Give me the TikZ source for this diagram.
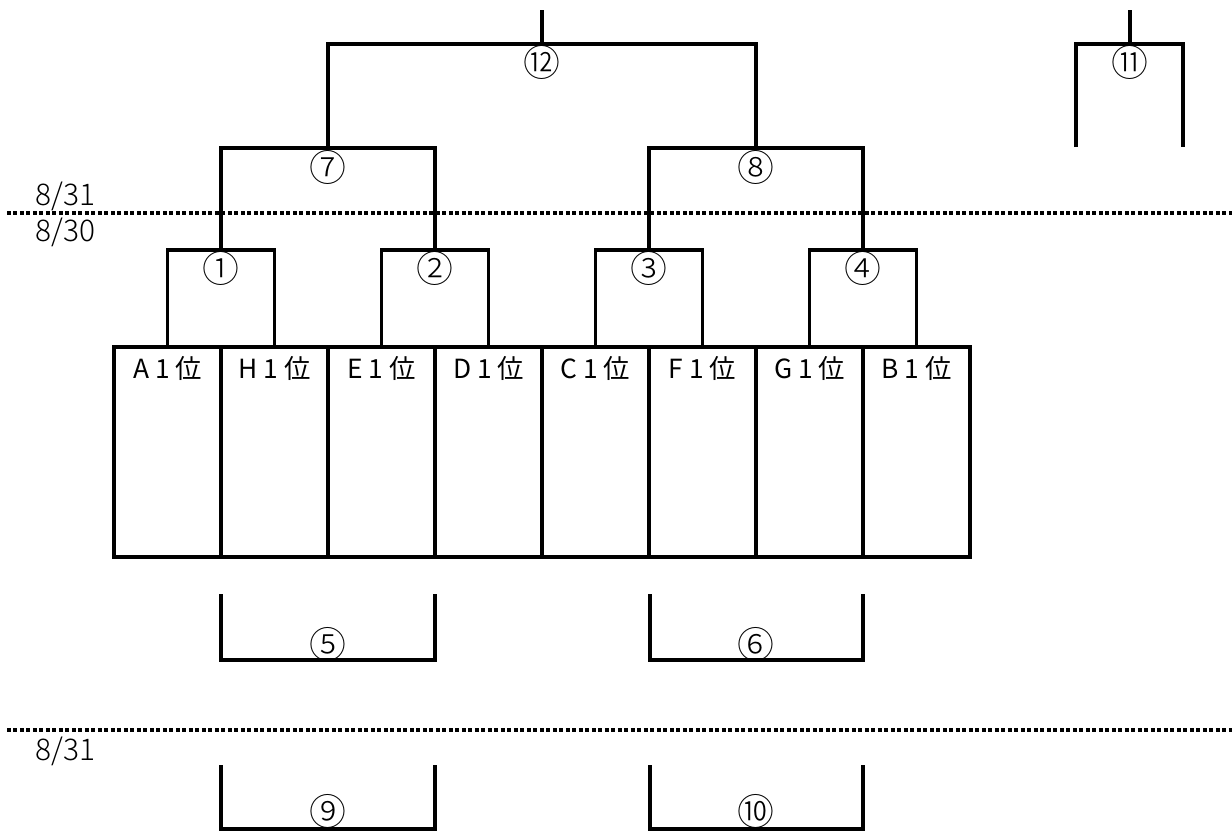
\documentclass[tikz,border=0pt]{standalone}
\usepackage{fontspec}
\setmainfont{Noto Sans CJK JP}
\newfontfamily\thinfont{Noto Sans CJK JP Light}
\usetikzlibrary{positioning}

\begin{document}
\begin{tikzpicture}[x=0.02cm, y=-0.02cm, line width=1.9pt,
    cell/.style={draw, minimum width=2.14cm, minimum height=4.2cm, inner sep=0pt},
    team/.style={font=\fontsize{15}{17}\selectfont, inner sep=0pt},
    num/.style={font=\thinfont\fontsize{21}{23}\selectfont, inner sep=0pt},
    day/.style={font=\thinfont\fontsize{17}{19}\selectfont, anchor=west, inner sep=0pt},
    daysep/.style={dash pattern=on 0.08cm off 0.05cm}]
            \useasboundingbox (0,0) rectangle (1232,833);
            % days
            \coordinate (s1) at (7,213);
            \coordinate (e1) at (1232,213);
            \path[draw, daysep](s1)to(e1);
            \node[day] (d1) at (34,196) {8/31};
            \node[day] (d2) at (34,232) {8/30};
            \coordinate (s2) at (7,730);
            \coordinate (e2) at (1232,730);
            \path[draw, daysep](s2)to(e2);
            \node[day] (d3) at (34,751) {8/31};
            % teams
            \foreach \t [count=\i] in {A,H,E,D,C,F,G,B}{
                \node[cell] (c\i) at ({60.5+107*\i},452) {};
                \node[team] (t\i) at ([yshift=-0.46cm]c\i.north) {\t{} 1 位};
            }
            % first round
            \foreach \i in {1,...,4}{
                \coordinate (r\i) at ({221+214*(\i-1)},250);
            }
            \path[draw](c1.north)|-(r1)-|(c2.north);
            \path[draw](c3.north)|-(r2)-|(c4.north);
            \path[draw](c5.north)|-(r3)-|(c6.north);
            \path[draw](c7.north)|-(r4)-|(c8.north);
            \node[num] (n1) at ([yshift=-0.36cm]r1) {①};
            \node[num] (n2) at ([yshift=-0.36cm]r2) {②};
            \node[num] (n3) at ([yshift=-0.36cm]r3) {③};
            \node[num] (n4) at ([yshift=-0.36cm]r4) {④};
            % second round
            \coordinate (r7) at (328,148);
            \coordinate (r8) at (756,148);
            \path[draw](r1)|-(r7)-|(r2);
            \path[draw](r3)|-(r8)-|(r4);
            \node[num] (n7) at ([yshift=-0.39cm]r7) {⑦};
            \node[num] (n8) at ([yshift=-0.39cm]r8) {⑧};
            % final
            \coordinate (r12) at (542,44);
            \coordinate (k12) at (542,10);
            \path[draw](r7)|-(r12)-|(r8);
            \path[draw](r12)to(k12);
            \node[num] (n12) at ([yshift=-0.37cm]r12) {⑫};
            % third place
            \coordinate (r11) at (1130,44);
            \coordinate (k11) at (1130,10);
            \coordinate (l11) at (1076,147);
            \coordinate (m11) at (1183,147);
            \path[draw](l11)|-(r11)-|(m11);
            \path[draw](r11)to(k11);
            \node[num] (n11) at ([yshift=-0.37cm]r11) {⑪};
            % lower brackets 8/30
            \coordinate (p5) at (221,594);
            \coordinate (q5) at (435,594);
            \coordinate (r5) at (328,660);
            \path[draw](p5)|-(r5)-|(q5);
            \node[num] (n5) at ([yshift=0.31cm]r5) {⑤};
            \coordinate (p6) at (650,594);
            \coordinate (q6) at (863,594);
            \coordinate (r6) at (756,660);
            \path[draw](p6)|-(r6)-|(q6);
            \node[num] (n6) at ([yshift=0.31cm]r6) {⑥};
            % lower brackets 8/31
            \coordinate (p9) at (221,765);
            \coordinate (q9) at (435,765);
            \coordinate (r9) at (328,829);
            \path[draw](p9)|-(r9)-|(q9);
            \node[num] (n9) at ([yshift=0.36cm]r9) {⑨};
            \coordinate (p10) at (650,765);
            \coordinate (q10) at (863,765);
            \coordinate (r10) at (756,829);
            \path[draw](p10)|-(r10)-|(q10);
            \node[num] (n10) at ([yshift=0.36cm]r10) {⑩};
\end{tikzpicture}
\end{document}
